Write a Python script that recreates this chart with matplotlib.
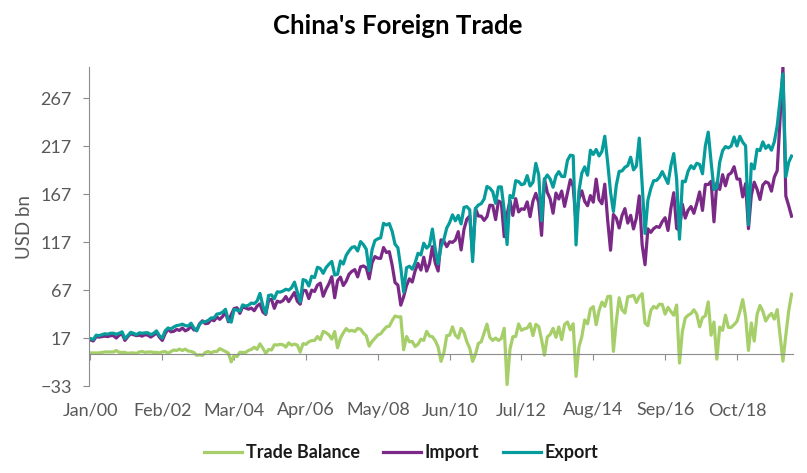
import numpy as np
import matplotlib.pyplot as plt

plt.rcParams['font.family'] = ['Lato', 'DejaVu Sans']

# China monthly trade, USD bn, Jan 2000 - May 2020
# (Jan 2020 was only published together with Feb 2020, so Jan is empty)
export = [
    16.5, 15.5, 20.0, 19.5, 20.5, 21.5, 21.0, 22.0, 22.0, 21.0, 22.0, 23.5,          # 2000
    16.5, 19.5, 23.0, 22.0, 20.5, 22.5, 22.0, 22.5, 22.5, 20.5, 22.0, 24.5,          # 2001
    19.5, 17.0, 24.5, 27.5, 26.5, 28.5, 30.0, 30.5, 31.5, 30.0, 29.5, 32.5,          # 2002
    27.5, 24.5, 31.5, 34.0, 34.0, 35.5, 38.0, 38.0, 42.0, 42.5, 44.0, 47.0,          # 2003
    35.3, 33.6, 46.8, 46.2, 44.9, 51.6, 50.3, 51.2, 53.5, 52.9, 55.6, 63.6,          # 2004
    50.6, 42.6, 61.5, 62.0, 58.0, 65.2, 64.9, 66.0, 67.9, 67.0, 69.5, 75.3,          # 2005
    65.0, 54.7, 78.0, 76.9, 71.3, 81.4, 80.1, 90.8, 89.6, 84.5, 90.5, 94.0,          # 2006
    96.9, 82.8, 83.5, 97.4, 94.2, 103.2, 107.9, 111.6, 112.3, 107.8, 117.6, 114.4,   # 2007
    109.6, 87.4, 108.9, 118.7, 120.5, 121.5, 136.7, 134.9, 136.4, 128.3, 114.9, 111.2,  # 2008
    90.5, 64.9, 90.3, 91.9, 88.8, 95.4, 105.4, 103.7, 115.9, 110.8, 113.7, 130.7,    # 2009
    109.5, 94.5, 112.1, 119.9, 131.8, 137.4, 145.5, 139.3, 144.9, 136.0, 153.3, 154.1,  # 2010
    150.7, 96.7, 152.2, 155.7, 157.2, 162.0, 175.1, 173.3, 169.7, 157.5, 174.5, 174.7,  # 2011
    149.9, 114.5, 165.7, 163.3, 181.1, 180.2, 176.9, 177.9, 186.4, 175.6, 179.4, 199.2,  # 2012
    187.4, 139.4, 182.2, 187.1, 182.8, 174.3, 186.0, 190.6, 185.6, 185.4, 202.2, 207.7,  # 2013
    207.1, 114.1, 170.1, 188.9, 195.5, 186.8, 212.9, 208.5, 213.7, 206.9, 211.6, 227.5,  # 2014
    200.3, 169.2, 149.0, 176.3, 190.8, 191.3, 195.1, 196.9, 205.6, 192.4, 196.4, 225.5,  # 2015
    177.5, 126.1, 160.8, 172.8, 181.1, 181.4, 184.7, 190.6, 184.5, 178.2, 196.8, 209.4,  # 2016
    182.8, 120.1, 180.6, 180.0, 191.1, 196.7, 193.6, 199.3, 198.1, 188.3, 217.4, 231.8,  # 2017
    200.5, 171.9, 174.1, 200.5, 212.4, 216.7, 215.3, 217.3, 226.7, 217.3, 227.4, 221.3,  # 2018
    217.5, 135.2, 198.7, 193.5, 213.8, 212.5, 221.6, 214.8, 218.1, 212.9, 221.7, 238.2,  # 2019
    np.nan, 292.5, 185.1, 200.3, 206.8,                                                # 2020
]

imports = [
    15.0, 14.0, 18.5, 18.0, 18.5, 19.0, 18.5, 19.5, 19.5, 17.0, 20.0, 21.5,          # 2000
    14.5, 18.5, 21.5, 20.5, 19.5, 20.0, 19.0, 20.5, 20.0, 18.0, 20.0, 22.5,          # 2001
    18.0, 14.5, 21.5, 26.5, 23.5, 24.0, 26.0, 25.0, 27.5, 24.5, 26.0, 29.5,          # 2002
    25.5, 25.5, 32.0, 35.0, 32.0, 32.5, 36.5, 35.0, 39.0, 36.5, 39.5, 44.0,          # 2003
    34.0, 41.5, 47.8, 48.6, 42.7, 49.6, 48.3, 47.1, 48.3, 45.5, 50.4, 52.6,          # 2004
    44.2, 41.6, 56.4, 57.5, 48.0, 55.5, 54.4, 56.0, 60.3, 55.0, 59.9, 64.6,          # 2005
    55.4, 52.3, 66.8, 66.5, 58.2, 67.0, 65.6, 72.2, 74.3, 60.6, 67.9, 73.7,          # 2006
    81.0, 59.0, 76.7, 80.6, 71.8, 76.3, 83.6, 86.6, 88.4, 80.8, 91.3, 92.2,          # 2007
    90.3, 78.8, 95.5, 102.0, 100.3, 100.1, 111.4, 106.2, 107.1, 93.1, 74.9, 72.2,    # 2008
    51.3, 60.1, 71.7, 78.8, 75.4, 87.2, 94.8, 87.9, 101.3, 86.8, 94.6, 112.3,        # 2009
    95.3, 86.9, 119.4, 118.2, 112.3, 117.4, 116.8, 119.3, 128.0, 108.9, 130.4, 141.1,  # 2010
    144.3, 104.0, 152.1, 144.3, 144.1, 139.7, 143.6, 155.6, 155.2, 140.5, 160.0, 158.2,  # 2011
    122.7, 146.0, 160.4, 144.9, 162.4, 148.5, 151.8, 151.2, 159.0, 143.6, 159.8, 167.9,  # 2012
    158.3, 124.1, 183.1, 168.9, 162.1, 147.2, 168.2, 162.0, 170.3, 154.3, 168.4, 182.1,  # 2013
    175.2, 137.1, 162.4, 170.5, 159.6, 155.0, 165.6, 158.7, 182.8, 161.4, 157.1, 177.5,  # 2014
    140.0, 108.6, 145.9, 142.1, 131.8, 144.8, 152.0, 136.9, 145.0, 130.8, 142.3, 165.3,  # 2015
    114.2, 93.5, 130.9, 127.2, 131.1, 133.3, 132.4, 138.5, 142.5, 129.2, 152.2, 168.6,   # 2016
    131.4, 129.2, 156.6, 142.1, 150.3, 154.2, 147.1, 157.4, 169.4, 150.1, 177.2, 177.1,  # 2017
    180.5, 138.2, 179.1, 172.0, 187.4, 175.8, 187.2, 189.2, 195.7, 182.9, 182.7, 164.2,  # 2018
    178.1, 131.1, 166.0, 179.6, 172.1, 161.5, 176.6, 180.0, 178.5, 170.2, 184.9, 191.5,  # 2019
    np.nan, 299.6, 165.2, 155.0, 144.1,                                                # 2020
]

tick_labels = ["Jan/00", "Feb/02", "Mar/04", "Apr/06", "May/08",
               "Jun/10", "Jul/12", "Aug/14", "Sep/16", "Oct/18"]
label_step = 25  # one label every 25 months

GREEN = "#a6cf6a"
PURPLE = "#7a2a86"
TEAL = "#069c9c"
GREY = "#595959"
AXIS = "#8c8c8c"

export = np.array(export, dtype=float)
imports = np.array(imports, dtype=float)
balance = export - imports

months = np.arange(len(export))
ok = ~np.isnan(export)   # Excel joins the line across the empty month

fig = plt.figure(figsize=(8.07, 4.73), dpi=100)
ax = fig.add_axes([89 / 807, 1 - 386 / 473, 704 / 807, 319.3 / 473])

ax.plot(months[ok], balance[ok], color=GREEN, lw=2.3, solid_joinstyle="round", label="Trade Balance")
ax.plot(months[ok], imports[ok], color=PURPLE, lw=2.3, solid_joinstyle="round", label="Import")
ax.plot(months[ok], export[ok], color=TEAL, lw=2.3, solid_joinstyle="round", label="Export")

ax.set_xlim(-0.5, len(export) - 0.5)
ax.set_ylim(-33, 300)
ax.set_yticks(np.arange(-33, 300, 50))
ax.set_xticks(months[::label_step])
ax.set_xticklabels(tick_labels)

for s in ["top", "right"]:
    ax.spines[s].set_visible(False)
ax.spines["bottom"].set_position(("data", 0))
ax.spines["bottom"].set_color(AXIS)
ax.spines["left"].set_color(AXIS)

ax.tick_params(axis="y", colors=AXIS, labelcolor=GREY, labelsize=13, length=4.5, pad=8)
ax.tick_params(axis="x", colors=AXIS, labelcolor=GREY, labelsize=13, length=4.5, pad=30)

fig.text(24 / 807, 1 - 226.7 / 473, "USD bn", rotation=90, ha="center", va="center",
         color=GREY, fontsize=13.5)
fig.text(398 / 807, 1 - 25.5 / 473, "China's Foreign Trade", ha="center", va="center",
         fontsize=18.5, fontweight="bold", color="black")

leg = fig.legend(loc="center", bbox_to_anchor=(401 / 807, 1 - 452.7 / 473), ncol=3,
                 frameon=False, handlelength=2.1, handletextpad=0.2, columnspacing=1.3,
                 prop={"weight": "bold", "size": 13})
for t in leg.get_texts():
    t.set_color("#1a1a1a")

fig.savefig("out.png", dpi=100)
